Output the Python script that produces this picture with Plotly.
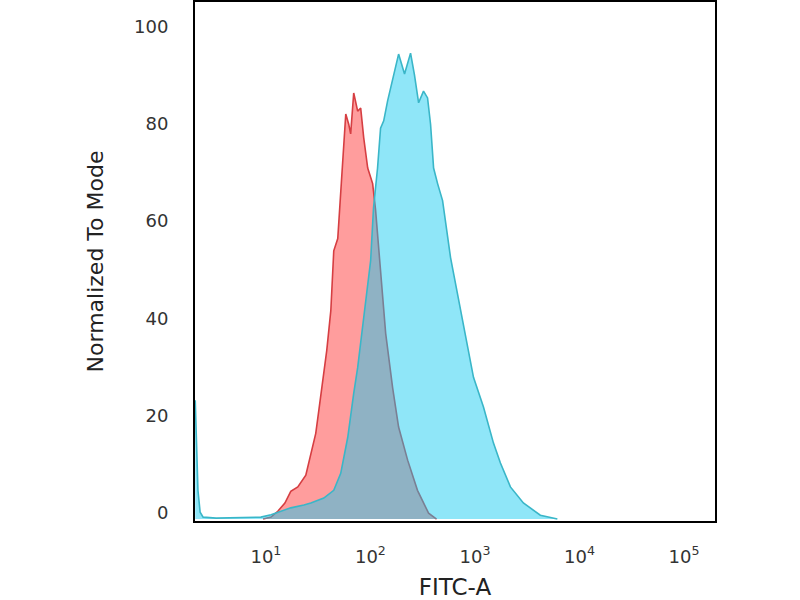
import plotly.graph_objects as go

# Isotype control (red) histogram: FITC-A intensity vs normalized count
red_x = [9.4, 11.2, 13.0, 15.2, 17.3, 20.2, 24.1, 26.9, 30.0, 32.1, 35.0, 38.2, 41.8, 44.6,
         48.7, 52.0, 55.6, 58.1, 62.0, 64.7, 69.2, 75.5, 80.7, 86.3, 94.2, 105, 112, 125,
         140, 163, 186, 227, 282, 360, 429]
red_y = [0, 0.4, 1.6, 3.3, 5.7, 6.6, 9.0, 13.1, 17.6, 22.3, 28.1, 34.6, 42.8, 55.1,
         57.6, 67.4, 77.7, 83.2, 81.1, 79.1, 87.5, 83.8, 84.4, 78.3, 72.1, 68.9, 63.5, 51.6,
         38.1, 27.0, 18.9, 12.1, 5.9, 1.2, 0]

# Stained sample (cyan) histogram
cyan_x = [2.11, 2.17, 2.24, 2.35, 2.51, 3.34, 5.77, 8.96, 11.2, 17.3, 23.1, 26.9, 35.8, 44.6,
          52.0, 60.7, 69.2, 75.5, 86.3, 100.5, 107, 117, 125, 134, 146, 163, 186, 212,
          242, 264, 289, 322, 352, 376, 402, 439, 490, 584, 727, 867, 968, 1206, 1503,
          1752, 2183, 2904, 4219, 6138]
cyan_y = [24.4, 16.2, 5.9, 1.4, 0.4, 0.2, 0.3, 0.4, 0.9, 2.3, 2.9, 3.3, 4.3, 5.9,
          9.4, 16.8, 25.8, 31.1, 41.4, 53.1, 63.9, 72.1, 80.3, 81.8, 85.9, 90.0, 95.5, 91.4,
          95.7, 91.2, 85.5, 87.9, 86.5, 81.1, 72.1, 68.9, 65.4, 53.7, 42.8, 34.6, 29.1, 23.0, 15.6,
          11.5, 6.6, 3.3, 0.8, 0]

x_tickvals = [10, 100, 1000, 10000, 100000]
x_ticktext = ["10<sup>1</sup>", "10<sup>2</sup>", "10<sup>3</sup>", "10<sup>4</sup>", "10<sup>5</sup>"]
y_tickvals = [0, 20, 40, 60, 80, 100]

FONT = "DejaVu Sans"

fig = go.Figure()
fig.add_trace(go.Scatter(
    x=red_x, y=red_y, mode="lines", fill="tozeroy",
    line=dict(color="rgb(214,62,66)", width=1.6),
    fillcolor="rgba(255,60,60,0.5)", hoverinfo="skip", showlegend=False))
fig.add_trace(go.Scatter(
    x=cyan_x, y=cyan_y, mode="lines", fill="tozeroy",
    line=dict(color="rgb(58,182,200)", width=1.6),
    fillcolor="rgba(17,202,240,0.47)", hoverinfo="skip", showlegend=False))

fig.update_layout(
    width=800, height=600,
    margin=dict(l=195, r=85, t=2, b=79),
    paper_bgcolor="white", plot_bgcolor="white",
    font=dict(family=FONT, color="#333333"),
)
fig.update_xaxes(
    type="log", range=[0.322, 5.296], automargin=False,
    tickvals=x_tickvals, ticktext=x_ticktext,
    tickfont=dict(size=18, color="#333333", family=FONT),
    ticks="", ticklabelstandoff=18,
    showgrid=False, zeroline=False,
    showline=True, linecolor="black", linewidth=2, mirror=True,
    title=dict(text="FITC-A", font=dict(size=23, color="#222222", family=FONT), standoff=20),
)
fig.update_yaxes(
    range=[-0.4, 106.2], automargin=False,
    tickvals=y_tickvals,
    tickfont=dict(size=18, color="#333333", family=FONT),
    ticks="", ticklabelstandoff=21, ticklabelshift=-6,
    showgrid=False, zeroline=False,
    showline=True, linecolor="black", linewidth=2, mirror=True,
    title=dict(text="Normalized To Mode", font=dict(size=22, color="#222222", family=FONT), standoff=24),
)

fig.write_html("out.html", config={"displayModeBar": False},
               post_script="document.body.style.margin='0px';document.body.style.padding='0px';")
